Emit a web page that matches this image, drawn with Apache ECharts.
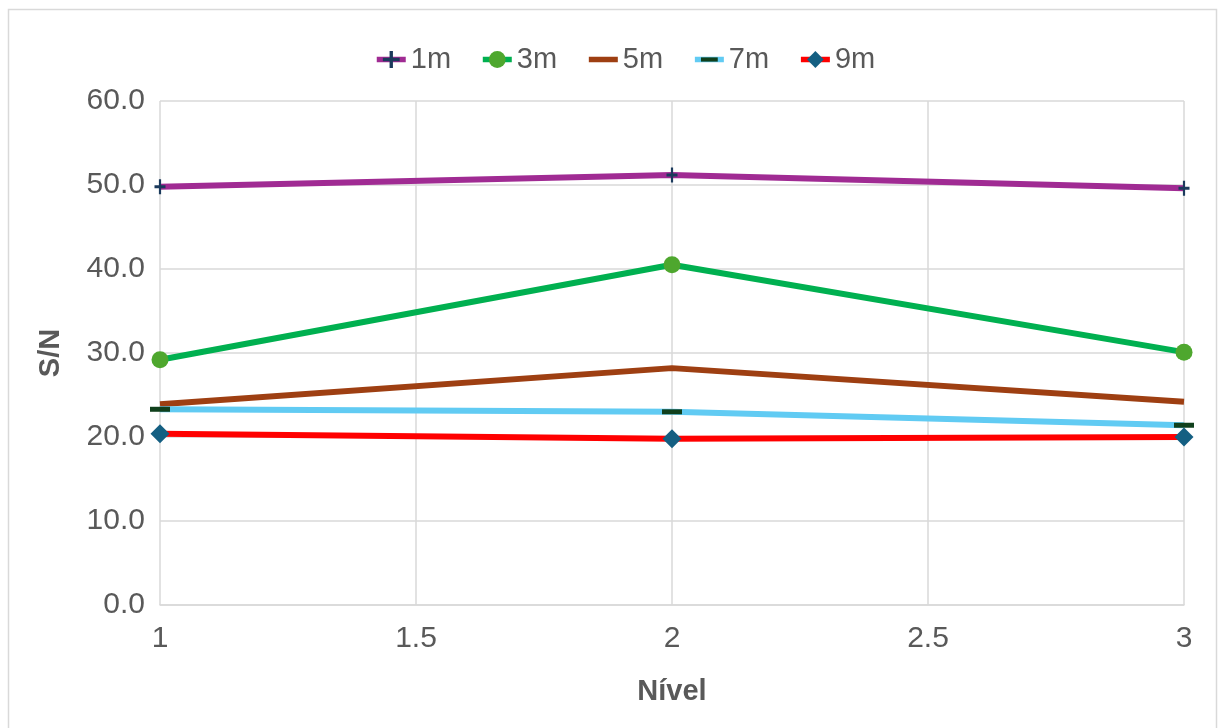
<!DOCTYPE html>
<html>
<head>
<meta charset="utf-8">
<script src="https://cdn.jsdelivr.net/npm/echarts@6/dist/echarts.min.js"></script>
<style>
  html, body { margin: 0; padding: 0; background: #fff; }
  #chart { width: 1219px; height: 728px; }
</style>
</head>
<body>
<div id="chart"></div>
<script>
// Signal-to-noise ratio per level, one line per distance
const levels = [1, 2, 3];
const seriesNames = ['1m', '3m', '5m', '7m', '9m'];
const sn1m = [49.8, 51.2, 49.6];
const sn3m = [29.2, 40.5, 30.1];
const sn5m = [23.9, 28.2, 24.2];
const sn7m = [23.3, 23.0, 21.4];
const sn9m = [20.4, 19.8, 20.0];
const yTicks = { min: 0, max: 60, step: 10 };
const xTicks = { min: 1, max: 3, step: 0.5 };

const FONT = 'Liberation Sans, Arial, sans-serif';
const TEXT = '#595959';
const GRID = '#d9d9d9';

// plus sign and a flat dash (padded to a square so it keeps its shape in the legend)
const plusPath = 'path://M4,0h2v4h4v2h-4v4h-2v-4h-4v-2h4z';
const dashPath = 'path://M0,0L0,0M0,7.5h20v5h-20zM20,20L20,20';

function pairs(vals) { return levels.map((x, i) => [x, vals[i]]); }

const styles = [
  { data: sn1m, line: '#a02b93', mark: '#1b3a5c', symbol: plusPath, size: [11, 15] },
  { data: sn3m, line: '#00b050', mark: '#4ea72e', symbol: 'circle', size: 17 },
  { data: sn5m, line: '#9e3f12', mark: '#9e3f12', symbol: 'none', size: 0 },
  { data: sn7m, line: '#61cbf3', mark: '#10401c', symbol: dashPath, size: 20 },
  { data: sn9m, line: '#ff0000', mark: '#145f82', symbol: 'diamond', size: 19 }
];

const chart = echarts.init(document.getElementById('chart'));
chart.setOption({
  backgroundColor: '#fff',
  animation: false,
  textStyle: { fontFamily: FONT },
  graphic: [{
    type: 'rect',
    shape: { x: 8.5, y: 9.5, width: 1208, height: 740 },
    style: { fill: 'none', stroke: GRID, lineWidth: 1.5 },
    silent: true
  }],
  legend: {
    top: 40,
    left: 369,
    itemWidth: 29,
    itemHeight: 21,
    itemGap: 29,
    lineStyle: { width: 5.5 },
    textStyle: { fontSize: 29, color: TEXT, fontFamily: FONT },
    data: seriesNames.map(n => n === '5m' ? { name: n, itemStyle: { opacity: 0 } } : n)
  },
  grid: { left: 160, right: 35, top: 101, bottom: 123 },
  xAxis: {
    type: 'value',
    min: xTicks.min, max: xTicks.max, interval: xTicks.step,
    name: 'Nível',
    nameLocation: 'middle',
    nameGap: 72,
    nameTextStyle: { fontSize: 29, fontWeight: 'bold', color: TEXT, fontFamily: FONT },
    axisLine: { show: true, lineStyle: { color: GRID, width: 1.5 } },
    axisTick: { show: false },
    splitLine: { show: true, lineStyle: { color: GRID, width: 1.5 } },
    axisLabel: { fontSize: 30, color: TEXT, margin: 19, fontFamily: FONT }
  },
  yAxis: {
    type: 'value',
    min: yTicks.min, max: yTicks.max, interval: yTicks.step,
    name: 'S/N',
    nameLocation: 'middle',
    nameGap: 95,
    nameTextStyle: { fontSize: 29, fontWeight: 'bold', color: TEXT, fontFamily: FONT },
    axisLine: { show: false },
    axisTick: { show: false },
    splitLine: { show: true, lineStyle: { color: GRID, width: 1.5 } },
    axisLabel: { fontSize: 30, color: TEXT, margin: 15, fontFamily: FONT,
      formatter: v => v.toFixed(1) }
  },
  series: styles.map((s, i) => ({
    name: seriesNames[i],
    type: 'line',
    data: pairs(s.data),
    symbol: s.symbol,
    symbolSize: s.size,
    showSymbol: s.symbol !== 'none',
    lineStyle: { color: s.line, width: 6 },
    itemStyle: { color: s.mark, borderWidth: 0 },
    color: s.line,
    emphasis: { disabled: true }
  }))
});
</script>
</body>
</html>
